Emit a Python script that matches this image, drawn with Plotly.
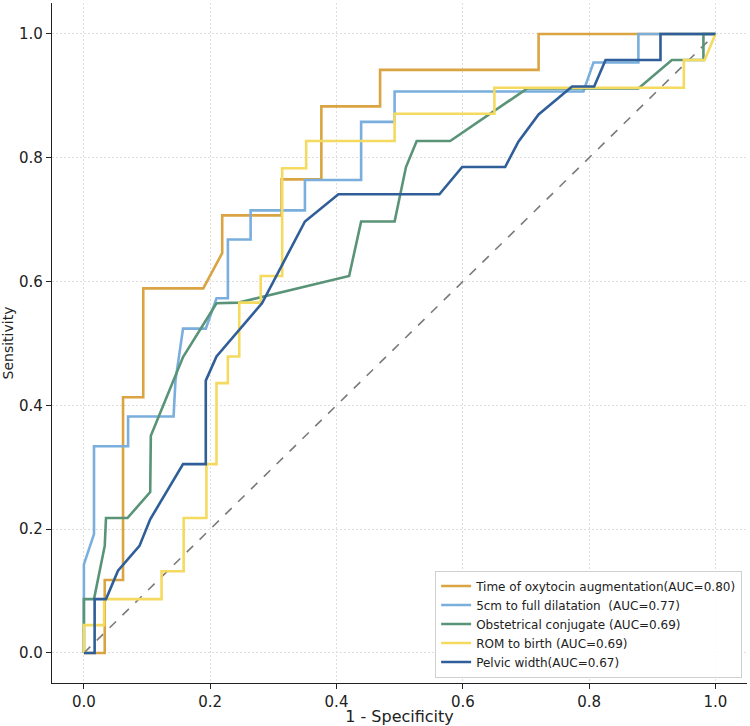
import plotly.graph_objects as go

# ---- data ----
labels = [
    "Time of oxytocin augmentation(AUC=0.80)",
    "5cm to full dilatation  (AUC=0.77)",
    "Obstetrical conjugate (AUC=0.69)",
    "ROM to birth (AUC=0.69)",
    "Pelvic width(AUC=0.67)",
]

oxy_fpr = [0, 0.033, 0.033, 0.062, 0.062, 0.094, 0.094, 0.189, 0.219, 0.219, 0.313, 0.313,
           0.376, 0.376, 0.469, 0.469, 0.72, 0.72, 1.0]
oxy_tpr = [0, 0, 0.118, 0.118, 0.413, 0.413, 0.589, 0.589, 0.646, 0.707, 0.707, 0.765,
           0.765, 0.883, 0.883, 0.942, 0.942, 1.0, 1.0]

dil_fpr = [0, 0, 0.016, 0.016, 0.070, 0.070, 0.142, 0.145, 0.157, 0.193, 0.210, 0.228, 0.228,
           0.264, 0.264, 0.350, 0.350, 0.439, 0.439, 0.492, 0.492, 0.791, 0.807, 0.878, 0.878, 1.0]
dil_tpr = [0, 0.143, 0.192, 0.334, 0.334, 0.382, 0.382, 0.44, 0.524, 0.524, 0.573, 0.573, 0.668,
           0.668, 0.715, 0.715, 0.764, 0.764, 0.858, 0.858, 0.907, 0.907, 0.954, 0.954, 1.0, 1.0]

con_fpr = [0, 0, 0.016, 0.033, 0.035, 0.069, 0.105, 0.106, 0.157, 0.210, 0.245, 0.420, 0.439,
           0.492, 0.510, 0.527, 0.580, 0.702, 0.878, 0.931, 0.981, 0.981, 1.0]
con_tpr = [0, 0.087, 0.087, 0.173, 0.218, 0.218, 0.260, 0.351, 0.478, 0.565, 0.566, 0.609, 0.697,
           0.697, 0.785, 0.827, 0.827, 0.912, 0.912, 0.958, 0.958, 1.0, 1.0]

rom_fpr = [0, 0, 0.032, 0.032, 0.123, 0.123, 0.158, 0.158, 0.194, 0.194, 0.210, 0.210, 0.228,
           0.228, 0.246, 0.246, 0.280, 0.280, 0.314, 0.314, 0.352, 0.352, 0.492, 0.492, 0.650,
           0.650, 0.950, 0.950, 0.983, 1.0]
rom_tpr = [0, 0.045, 0.045, 0.087, 0.087, 0.132, 0.132, 0.218, 0.218, 0.305, 0.305, 0.436, 0.436,
           0.479, 0.479, 0.566, 0.566, 0.609, 0.609, 0.783, 0.783, 0.827, 0.827, 0.871, 0.871,
           0.913, 0.913, 0.958, 0.958, 1.0]

pel_fpr = [0, 0.017, 0.017, 0.035, 0.054, 0.088, 0.105, 0.157, 0.193, 0.193, 0.210, 0.282,
           0.350, 0.403, 0.563, 0.599, 0.667, 0.688, 0.720, 0.773, 0.808, 0.826, 0.913, 0.913, 1.0]
pel_tpr = [0, 0, 0.087, 0.087, 0.133, 0.173, 0.216, 0.305, 0.305, 0.440, 0.479, 0.565,
           0.697, 0.741, 0.741, 0.785, 0.785, 0.826, 0.870, 0.915, 0.915, 0.958, 0.958, 1.0, 1.0]

ref_x = [0, 1]
ref_y = [0, 1]

tick_vals = [0.0, 0.2, 0.4, 0.6, 0.8, 1.0]
tick_text = ["0.0", "0.2", "0.4", "0.6", "0.8", "1.0"]

# ---- styles ----
colors = ["#D9A441", "#7AAEDD", "#5A9478", "#F4DA5E", "#2F5E98"]
series = [(oxy_fpr, oxy_tpr), (dil_fpr, dil_tpr), (con_fpr, con_tpr),
          (rom_fpr, rom_tpr), (pel_fpr, pel_tpr)]

fig = go.Figure()
fig.add_trace(go.Scatter(x=ref_x, y=ref_y, mode="lines", showlegend=False,
                         line=dict(color="#7a7a7a", width=1.6, dash="dash")))
for (fx, fy), name, c in zip(series, labels, colors):
    fig.add_trace(go.Scatter(x=fx, y=fy, mode="lines", name=name,
                             line=dict(color=c, width=2.6)))

axis_common = dict(
    tickvals=tick_vals, ticktext=tick_text, automargin=False,
    showgrid=True, gridcolor="#dedede", gridwidth=0.8, griddash="2px,2px",
    zeroline=False, showline=True, linecolor="#222", linewidth=1.2, mirror=False,
    ticks="outside", ticklen=5, tickcolor="#222", tickwidth=1,
    tickfont=dict(family="DejaVu Sans", size=15, color="#222"),
)

fig.update_layout(
    width=750, height=726,
    margin=dict(l=52, r=3, t=3, b=43),
    paper_bgcolor="white", plot_bgcolor="white",
    font=dict(family="DejaVu Sans", color="#222"),
    xaxis=dict(range=[-0.0505, 1.05], title=dict(text="1 - Specificity", standoff=2,
               font=dict(size=16)), **axis_common),
    yaxis=dict(range=[-0.0485, 1.05], title=dict(text="Sensitivity", standoff=8,
               font=dict(size=14)), **axis_common),
    legend=dict(x=0.993, y=0.008, xanchor="right", yanchor="bottom",
                bgcolor="rgba(255,255,255,0.9)", bordercolor="#d0d0d0", borderwidth=1,
                font=dict(family="DejaVu Sans", size=12, color="#222"),
                tracegroupgap=0, itemwidth=30),
)

fig.write_html("out.html")
